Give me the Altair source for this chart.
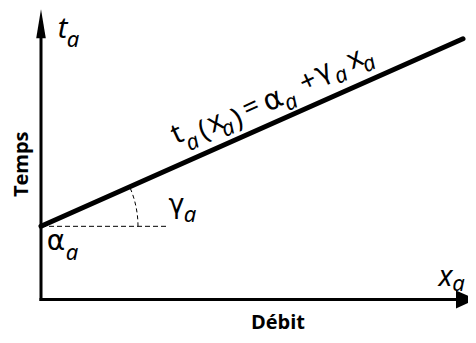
import altair as alt
import pandas as pd

# ---- diagram values (x_a = débit, t_a = temps; origin at the axes corner) ----
alpha_a = 76.0            # t_a(0) : intercept alpha_a
x_end = 422.0             # last x_a drawn for the cost line
t_end = 271.0             # t_a(x_end)
x_axis_len = 417.0
t_axis_len = 275.0
dash_len = 125.0          # dashed horizontal reference from alpha_a
arrow_t_pos = 286.5       # centre of the arrow head on the t axis
arrow_x_pos = 425.0       # centre of the arrow head on the x axis

x_domain = [-33, 427]
t_domain = [-37, 303]

# equation t_a(x_a) = alpha_a + gamma_a x_a, written along the line
eq_text = ["t", "a", "(", "x", "a", ")", "=", "α", "a", "+", "γ", "a", "x", "a"]
eq_style = ["up", "it", "up", "up", "it", "up", "up", "gr", "it", "up", "gr", "it", "up", "it"]
eq_x = [136.5, 151.5, 163, 174.5, 187, 196.5, 210.5, 232, 250, 267.5, 282.3, 300, 314, 328]
eq_y = [171, 163.5, 175, 183.5, 178, 187.5, 199, 207.5, 205, 226, 236.6, 233, 249.5, 245]
eq_size = [28, 22, 28, 28, 22, 28, 28, 29, 22, 28, 27, 22, 28, 22]
eq_angle = 335.2

# free labels
lab_text = ["t", "a", "α", "a", "γ", "a", "x", "a"]
lab_style = ["it", "it", "gr", "it", "gr", "it", "it", "it"]
lab_x = [21.5, 32, 15, 31, 135.5, 149, 404.5, 417.5]
lab_y = [281, 270, 60, 48.5, 98, 87.5, 23.5, 16]
lab_size = [29, 22, 28, 22, 27, 22, 29, 22]

title_text = ["Temps", "Débit"]
title_x = [-19.5, 237]
title_y = [140.5, -25]
title_angle = [270, 0]

# ---- tables ----
axes_df = pd.DataFrame({"x": [0, 0], "y": [0, 0],
                        "x2": [x_axis_len, 0], "y2": [0, t_axis_len]})
line_df = pd.DataFrame({"x": [0, x_end], "y": [alpha_a, t_end]})
dash_df = pd.DataFrame({"x": [0], "y": [alpha_a], "x2": [dash_len], "y2": [alpha_a]})
arrow_t_df = pd.DataFrame({"x": [0], "y": [arrow_t_pos]})
arrow_x_df = pd.DataFrame({"x": [arrow_x_pos], "y": [0]})
arc_df = pd.DataFrame({"x": [0], "y": [alpha_a]})

txt_df = pd.concat([
    pd.DataFrame({"text": eq_text, "style": eq_style, "x": eq_x, "y": eq_y,
                  "size": eq_size, "angle": [eq_angle] * len(eq_text)}),
    pd.DataFrame({"text": lab_text, "style": lab_style, "x": lab_x, "y": lab_y,
                  "size": lab_size, "angle": [0] * len(lab_text)}),
], ignore_index=True)
title_df = pd.DataFrame({"text": title_text, "x": title_x, "y": title_y,
                         "angle": title_angle})

X = alt.X("x:Q", scale=alt.Scale(domain=x_domain, nice=False, zero=False), axis=None)
Y = alt.Y("y:Q", scale=alt.Scale(domain=t_domain, nice=False, zero=False), axis=None)

axes = alt.Chart(axes_df).mark_rule(color="black", strokeWidth=3, strokeCap="square").encode(
    x=X, y=Y, x2="x2:Q", y2="y2:Q")
cost_line = alt.Chart(line_df).mark_line(color="black", strokeWidth=5, strokeCap="round").encode(
    x=X, y=Y)
dash = alt.Chart(dash_df).mark_rule(color="black", strokeWidth=1, strokeDash=[5, 3]).encode(
    x=X, y=Y, x2="x2:Q", y2="y2:Q")
arrow_t = alt.Chart(arrow_t_df).mark_point(
    shape="M0,-1L0.33,1L-0.33,1Z", size=841, filled=True, color="black",
    opacity=1, strokeWidth=0).encode(x=X, y=Y)
arrow_x = alt.Chart(arrow_x_df).mark_point(
    shape="M1,0L-1,-0.9L-1,0.9Z", size=400, filled=True, color="black",
    opacity=1, strokeWidth=0).encode(x=X, y=Y)
arc = alt.Chart(arc_df).mark_point(
    shape="M1,0C1,-0.134 0.973,-0.267 0.921,-0.391", size=37636, filled=False,
    color="black", opacity=1, strokeWidth=1, strokeDash=[4, 3]).encode(x=X, y=Y)


def text_layer(style, **mark_kw):
    return alt.Chart(txt_df).transform_filter(alt.datum.style == style).mark_text(
        color="black", align="center", baseline="middle", **mark_kw).encode(
        x=X, y=Y, text="text:N", size=alt.Size("size:Q", scale=None),
        angle=alt.Angle("angle:Q", scale=None))


up_txt = text_layer("up", font="Noto Sans")
gr_txt = text_layer("gr", font="DejaVu Sans")
it_txt = text_layer("it", font="Noto Sans", fontStyle="italic")

titles = alt.Chart(title_df).mark_text(
    font="Open Sans", fontWeight="bold", fontSize=20, color="black",
    align="center", baseline="middle").encode(
    x=X, y=Y, text="text:N", angle=alt.Angle("angle:Q", scale=None))

chart = alt.layer(axes, dash, arc, cost_line, arrow_t, arrow_x,
                  up_txt, gr_txt, it_txt, titles).properties(
    width=460, height=327, padding=0, background="white",
    autosize=alt.AutoSizeParams(type="none")
).configure_view(strokeWidth=0)

chart.save("out.html", embed_options={"renderer": "svg", "actions": False})
